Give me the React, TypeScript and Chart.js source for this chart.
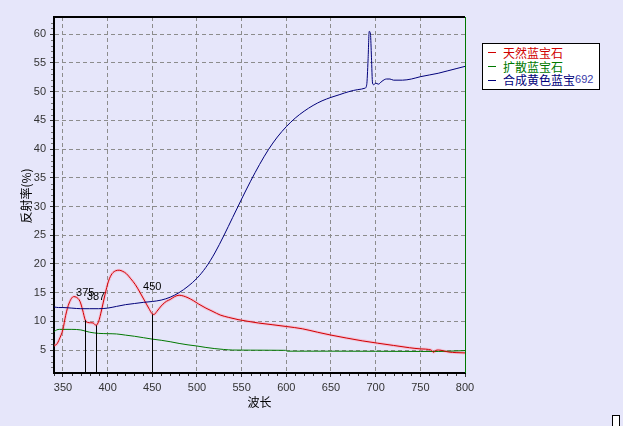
import React, { useEffect, useRef } from "react";
import { Chart, registerables } from "chart.js";

Chart.register(...registerables);

const redWl = [340, 343, 346, 350, 353, 357, 362, 365, 369, 372, 375, 378, 381, 384, 387, 390, 393, 397, 401, 405, 409, 413, 417, 421, 426, 431, 436, 441, 446, 450, 452, 455, 458, 462, 466, 470, 475, 480, 485, 490, 496, 502, 510, 518, 526, 535, 546, 557, 569, 585, 600, 618, 635, 650, 667, 685, 702, 720, 738, 750, 762, 765, 767, 770, 782, 790, 800];
const redVal = [5.8, 6.0, 6.9, 8.6, 11.0, 13.2, 14.3, 14.2, 13.5, 12.0, 10.2, 9.8, 9.75, 9.7, 9.3, 10.0, 11.8, 14.6, 17.0, 18.3, 18.8, 18.9, 18.7, 18.3, 17.4, 16.4, 15.1, 13.7, 12.3, 11.3, 11.2, 11.7, 12.3, 13.0, 13.5, 13.8, 14.3, 14.55, 14.4, 14.1, 13.6, 13.0, 12.3, 11.7, 11.1, 10.7, 10.3, 10.0, 9.7, 9.4, 9.1, 8.7, 8.1, 7.6, 7.1, 6.6, 6.2, 5.8, 5.4, 5.2, 5.0, 4.6, 4.9, 5.0, 4.65, 4.55, 4.5];

const greenWl = [340, 343, 346, 350, 360, 370, 375, 380, 390, 400, 410, 420, 430, 440, 450, 460, 470, 480, 490, 500, 510, 520, 530, 540, 560, 580, 599, 601, 650, 700, 750, 770, 790, 800];
const greenVal = [8.2, 8.5, 8.6, 8.6, 8.6, 8.5, 8.3, 8.1, 7.9, 7.85, 7.8, 7.6, 7.4, 7.15, 6.9, 6.7, 6.45, 6.15, 5.9, 5.7, 5.45, 5.25, 5.1, 5.0, 4.98, 4.97, 4.95, 4.8, 4.8, 4.78, 4.75, 4.75, 4.85, 4.9];

const blueWl = [340, 345, 350, 360, 370, 380, 390, 400, 410, 420, 430, 440, 450, 460, 470, 480, 490, 500, 510, 520, 530, 540, 550, 560, 570, 580, 590, 600, 610, 620, 630, 640, 650, 660, 670, 680, 688, 690, 691.5, 692.8, 694.2, 695.3, 696.5, 698, 700, 703, 707, 712, 716, 720, 730, 740, 750, 760, 770, 780, 790, 800];
const blueVal = [12.5, 12.4, 12.4, 12.3, 12.2, 12.2, 12.2, 12.3, 12.6, 12.9, 13.1, 13.3, 13.45, 13.7, 14.2, 15.0, 16.1, 17.5, 19.4, 21.9, 24.9, 28.1, 31.3, 34.4, 37.3, 39.9, 42.1, 43.9, 45.4, 46.6, 47.6, 48.4, 49.0, 49.5, 50.0, 50.35, 50.6, 51.2, 55.5, 60.5, 60.0, 56.0, 51.5, 51.2, 51.5, 51.3, 51.8, 52.2, 52.2, 52.0, 52.0, 52.2, 52.6, 52.9, 53.2, 53.6, 54.0, 54.4];

const seriesNames = ["天然蓝宝石", "扩散蓝宝石", "合成黄色蓝宝"];
const seriesSuffix = ["", "", "692"];
const seriesColors = ["#d00000", "#007800", "#00007a"];

const xTicks = [350, 400, 450, 500, 550, 600, 650, 700, 750, 800];
const yTicks = [5, 10, 15, 20, 25, 30, 35, 40, 45, 50, 55, 60];

const markerWl = [375, 387, 450];
const markerTop = [10.2, 9.3, 11.2];
const markerLabelY = [15.0, 14.2, 15.9];
const markerLabels = ["375", "387", "450"];

const xTitle = "波长";
const yTitle = "反射率(%)";

const pts = (xs: number[], ys: number[]) => xs.map((x, i) => ({ x, y: ys[i] }));

export default function App() {
  const ref = useRef<HTMLCanvasElement | null>(null);
  useEffect(() => {
    if (!ref.current) return;
    const tickFont = { family: "'Liberation Sans', Arial, sans-serif", size: 11 };
    const overlay = {
      id: "overlay",
      afterDatasetsDraw(chart: any) {
        const { ctx, chartArea: a, scales } = chart;
        const xs = scales.x, ys = scales.y;
        ctx.save();
        ctx.strokeStyle = "#000";
        ctx.lineWidth = 1;
        markerWl.forEach((w, i) => {
          const px = Math.round(xs.getPixelForValue(w)) + 0.5;
          ctx.beginPath();
          ctx.moveTo(px, ys.getPixelForValue(markerTop[i]));
          ctx.lineTo(px, a.bottom);
          ctx.stroke();
        });
        ctx.fillStyle = "#000";
        ctx.font = "11px 'Liberation Sans', Arial, sans-serif";
        ctx.textAlign = "center";
        ctx.textBaseline = "middle";
        markerWl.forEach((w, i) => {
          ctx.fillText(markerLabels[i], xs.getPixelForValue(w), ys.getPixelForValue(markerLabelY[i]));
        });
        ctx.strokeStyle = "#000";
        ctx.lineWidth = 2;
        ctx.beginPath();
        ctx.moveTo(a.left, a.top);
        ctx.lineTo(a.right, a.top);
        ctx.stroke();
        ctx.strokeStyle = "#007800";
        ctx.lineWidth = 1;
        ctx.beginPath();
        ctx.moveTo(Math.round(a.right) + 0.5, a.top);
        ctx.lineTo(Math.round(a.right) + 0.5, a.bottom);
        ctx.stroke();
        ctx.strokeStyle = "#333";
        ctx.lineWidth = 1;
        for (let v = 340; v <= 800; v += 10) {
          if (v % 50 === 0) continue;
          const px = Math.round(xs.getPixelForValue(v)) + 0.5;
          ctx.beginPath();
          ctx.moveTo(px, a.bottom + 1);
          ctx.lineTo(px, a.bottom + 3);
          ctx.stroke();
        }
        ctx.strokeStyle = "#777";
        for (let v = 2; v <= 62; v += 1) {
          if (v % 5 === 0) continue;
          const py = Math.round(ys.getPixelForValue(v)) + 0.5;
          ctx.beginPath();
          ctx.moveTo(a.left - 3, py);
          ctx.lineTo(a.left - 1, py);
          ctx.stroke();
        }
        ctx.fillStyle = "#000";
        ctx.font = "12px 'Noto Sans CJK SC', sans-serif";
        ctx.textAlign = "center";
        ctx.textBaseline = "middle";
        ctx.fillText(xTitle, (a.left + a.right) / 2, 402);
        ctx.translate(26, 196);
        ctx.rotate(-Math.PI / 2);
        ctx.fillText(yTitle, 0, 0);
        ctx.restore();
      },
    };
    const chart = new Chart(ref.current, {
      type: "line",
      data: {
        datasets: [
          { data: pts(redWl, redVal), borderColor: "rgba(255,150,175,0.45)", borderWidth: 3, pointRadius: 0, cubicInterpolationMode: "monotone", order: 10 },
          { data: pts(greenWl, greenVal), borderColor: seriesColors[1], borderWidth: 1, pointRadius: 0, cubicInterpolationMode: "monotone", order: 3 },
          { data: pts(redWl, redVal), borderColor: seriesColors[0], borderWidth: 1, pointRadius: 0, cubicInterpolationMode: "monotone", order: 2 },
          { data: pts(blueWl, blueVal), borderColor: seriesColors[2], borderWidth: 1, pointRadius: 0, cubicInterpolationMode: "monotone", order: 1 },
        ],
      } as any,
      options: {
        animation: false,
        responsive: false,
        maintainAspectRatio: false,
        layout: { padding: { left: 0, top: 17, right: 623 - 465, bottom: 0 } },
        plugins: { legend: { display: false }, tooltip: { enabled: false } },
        scales: {
          x: {
            type: "linear",
            min: 340,
            max: 800,
            afterFit: (s: any) => { s.height = 426 - 373; },
            afterBuildTicks: (s: any) => { s.ticks = xTicks.map((v) => ({ value: v })); },
            ticks: { font: tickFont, color: "#333", padding: 4, maxRotation: 0, autoSkip: false },
            grid: {
              color: (c: any) => (c.tick && c.tick.value === 800 ? "rgba(0,0,0,0)" : "#8c8c8c"),
              lineWidth: 1,
              tickLength: 4,
              tickColor: "#333",
              tickBorderDash: [],
            },
            border: { display: true, color: "#000", width: 2, dash: [4, 3] },
          },
          y: {
            type: "linear",
            min: 1,
            max: 63,
            afterFit: (s: any) => { s.width = 54; },
            afterBuildTicks: (s: any) => { s.ticks = yTicks.map((v) => ({ value: v })); },
            ticks: { font: tickFont, color: "#333", padding: 4, autoSkip: false },
            grid: { color: "#8c8c8c", lineWidth: 1, tickLength: 4, tickColor: "#333", tickBorderDash: [] },
            border: { display: true, color: "#000", width: 2, dash: [4, 3] },
          },
        },
      } as any,
      plugins: [overlay],
    });
    return () => chart.destroy();
  }, []);

  return (
    <div style={{ position: "fixed", left: 0, top: 0, width: 623, height: 426, background: "#E6E6FA", overflow: "hidden" }}>
      <canvas ref={ref} width={623} height={426} style={{ position: "absolute", left: 0, top: 0, width: 623, height: 426 }} />
      <div
        style={{
          position: "absolute", left: 482, top: 43, width: 118, height: 47, boxSizing: "border-box",
          background: "#fff", border: "1px solid #000", paddingTop: 2,
          fontFamily: "'Noto Sans CJK SC', sans-serif", fontSize: 12,
        }}
      >
        {seriesNames.map((n, i) => (
          <div key={n} style={{ height: 13.7, lineHeight: "13.7px", color: seriesColors[i], whiteSpace: "nowrap", display: "flex", alignItems: "center" }}>
            <span style={{ display: "inline-block", width: 8, height: 1, background: seriesColors[i], marginLeft: 5, marginRight: 7 }} />
            <span>{n}</span>
            {seriesSuffix[i] ? <span style={{ fontFamily: "'Liberation Sans', Arial, sans-serif", fontSize: 11, color: "#3a3aa8" }}>{seriesSuffix[i]}</span> : null}
          </div>
        ))}
      </div>
      <div style={{ position: "absolute", left: 612, top: 415, width: 8, height: 14, boxSizing: "border-box", background: "#fff", border: "1px solid #000" }} />
    </div>
  );
}
